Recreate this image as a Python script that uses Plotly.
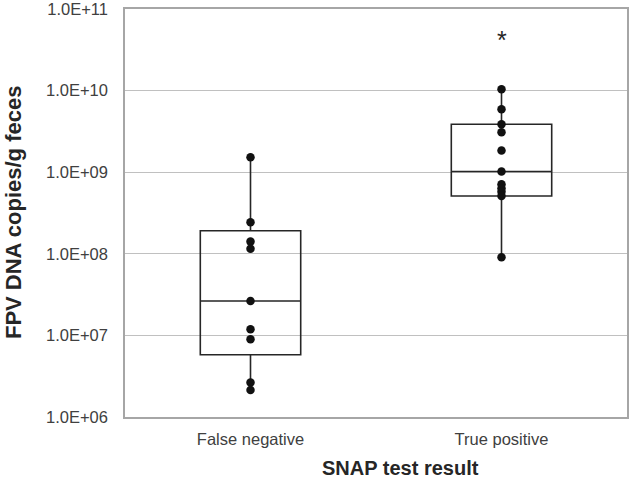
import numpy as np
import plotly.graph_objects as go

categories = ["False negative", "True positive"]

fn_values = [1.52e9, 2.43e8, 1.41e8, 1.15e8, 2.64e7, 1.19e7, 8.95e6, 2.64e6, 2.14e6]
tp_values = [1.04e10, 5.9e9, 3.87e9, 3.08e9, 1.84e9, 1.02e9, 7.1e8, 6.35e8, 5.77e8, 5.1e8, 9.06e7]

q1 = [5.8e6, 5.1e8]
median = [2.64e7, 1.02e9]
q3 = [1.92e8, 3.87e9]
lowerfence = [2.14e6, 9.06e7]
upperfence = [1.52e9, 1.04e10]

tick_vals = [1e6, 1e7, 1e8, 1e9, 1e10, 1e11]
tick_text = ["1.0E+06", "1.0E+07", "1.0E+08", "1.0E+09", "1.0E+10", "1.0E+11"]

x_title = "SNAP test result"
y_title = "FPV DNA copies/g feces"
significance_label = "*"
significance_y = 4.2e10

FONT = "Liberation Sans, Arial, sans-serif"

fig = go.Figure()
fig.add_trace(go.Box(
    x=categories,
    q1=q1, median=median, q3=q3,
    lowerfence=lowerfence, upperfence=upperfence,
    width=0.4, whiskerwidth=0,
    fillcolor="rgba(255,255,255,0)",
    line=dict(color="#262626", width=1.6),
    boxpoints=False,
    showlegend=False,
    hoverinfo="skip",
))

pts_x = [categories[0]] * len(fn_values) + [categories[1]] * len(tp_values)
pts_y = fn_values + tp_values
fig.add_trace(go.Scatter(
    x=pts_x, y=pts_y, mode="markers",
    marker=dict(color="#111111", size=8.5),
    showlegend=False,
))

fig.add_annotation(
    x=categories[1], y=np.log10(significance_y), text=significance_label,
    showarrow=False, font=dict(family=FONT, size=25, color="#262626"),
    xref="x", yref="y",
)
# axis titles placed as annotations (paper coordinates)
fig.add_annotation(
    x=0.548, y=-0.125, xref="paper", yref="paper",
    text="<b>" + x_title + "</b>", showarrow=False,
    xanchor="center", yanchor="middle",
    font=dict(family=FONT, size=20, color="#262626"),
)
fig.add_annotation(
    x=-0.223, y=0.5, xref="paper", yref="paper",
    text="<b>" + y_title + "</b>", showarrow=False, textangle=-90,
    xanchor="center", yanchor="middle",
    font=dict(family=FONT, size=22, color="#262626"),
)

fig.update_layout(
    width=632, height=486,
    margin=dict(l=125, r=5, t=9, b=69),
    paper_bgcolor="white", plot_bgcolor="white",
    font=dict(family=FONT, color="#404040"),
    xaxis=dict(
        type="category", range=[-0.5, 1.5], automargin=False,
        showgrid=False, zeroline=False,
        showline=True, linecolor="#a6a6a6", linewidth=1.5, mirror=True,
        ticks="", ticklabelstandoff=6, tickfont=dict(size=16.5, color="#404040"),
    ),
    yaxis=dict(
        type="log", range=[6, 11], automargin=False,
        tickvals=tick_vals, ticktext=tick_text,
        showgrid=True, gridcolor="#c0c0c0", gridwidth=1,
        zeroline=False,
        showline=True, linecolor="#a6a6a6", linewidth=1.5, mirror=True,
        ticks="", ticklabelstandoff=12, ticklabeloverflow="allow",
        tickfont=dict(size=16.5, color="#404040"),
    ),
)

fig.write_html("out.html", config={"displayModeBar": False},
               post_script="document.body.style.margin='0';")
